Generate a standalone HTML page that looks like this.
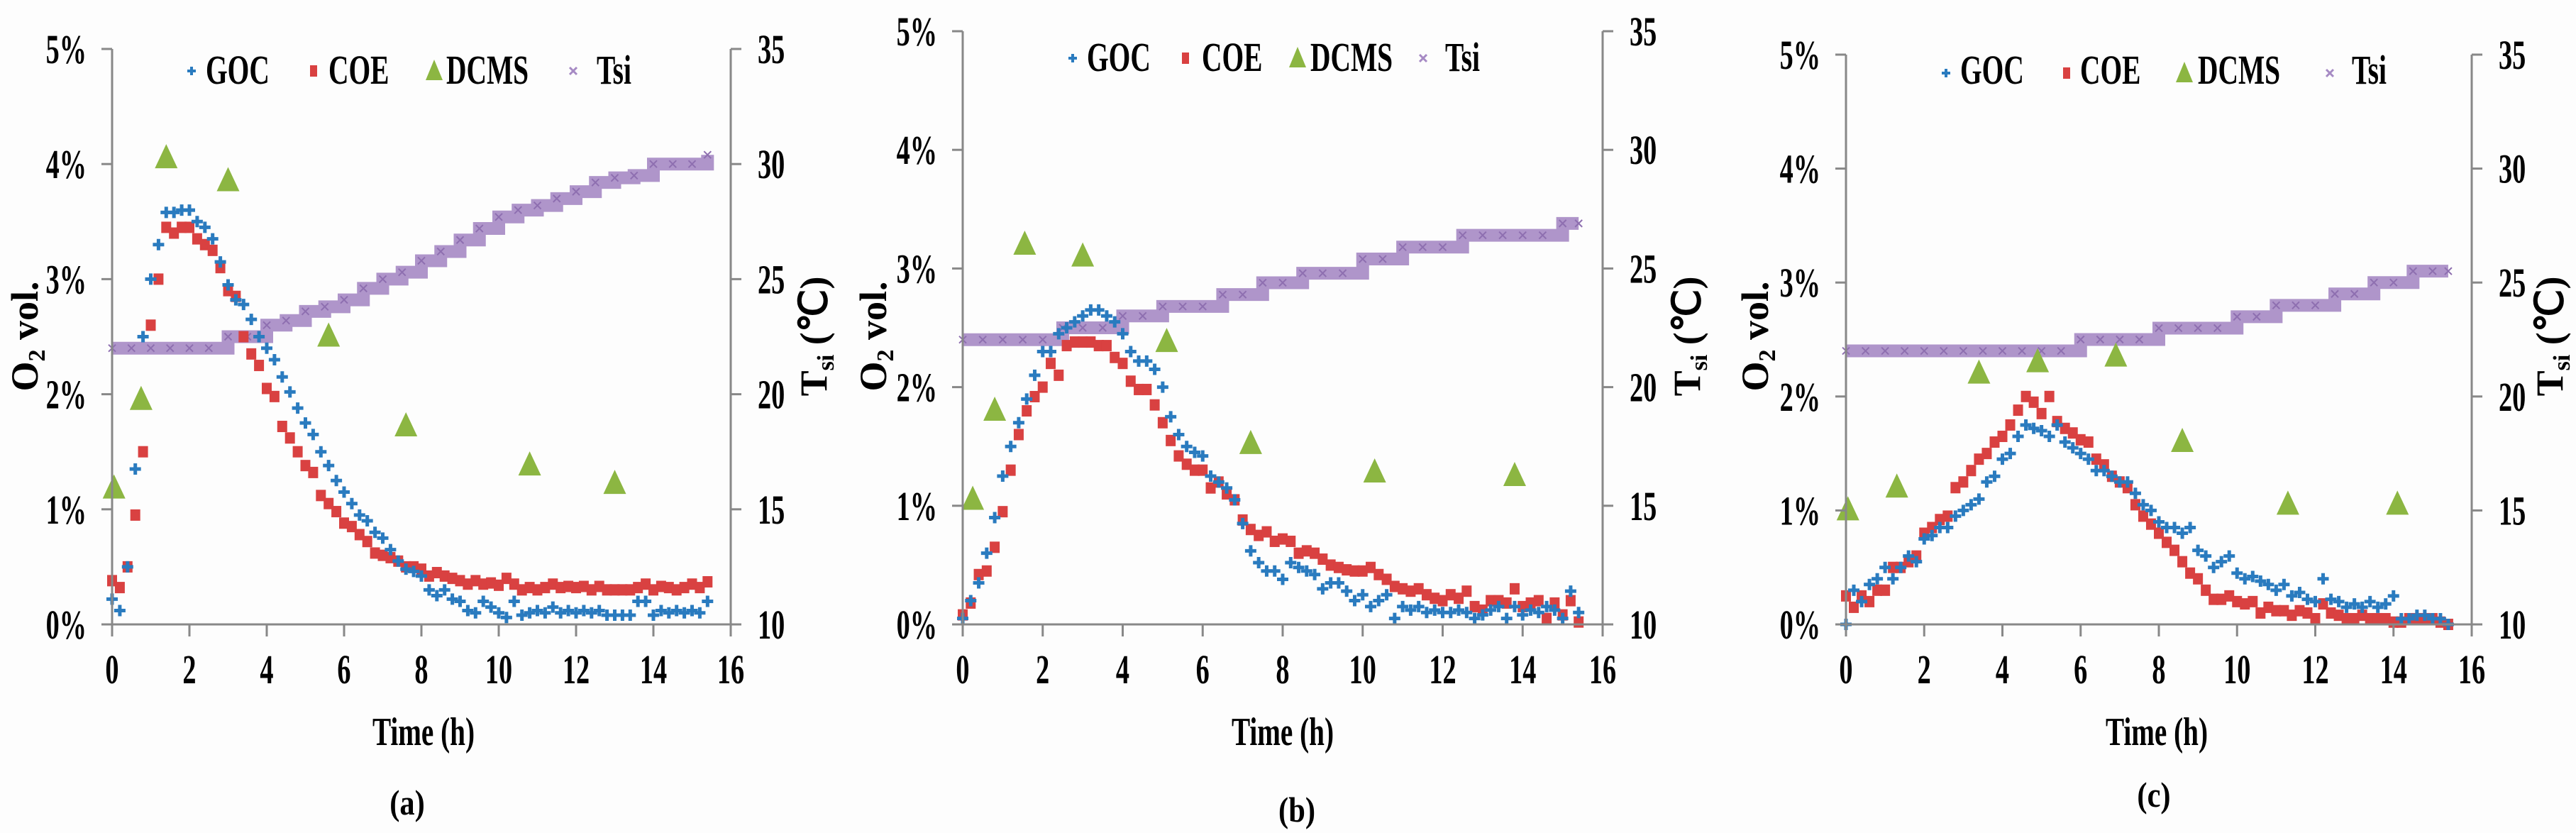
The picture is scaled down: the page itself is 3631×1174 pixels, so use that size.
<!DOCTYPE html>
<html><head><meta charset="utf-8"><style>
html,body{margin:0;padding:0;background:#fdfdfd;}
svg{display:block;}
text{font-family:"Liberation Serif",serif;font-weight:bold;fill:#000;}
</style></head><body>
<svg id="fig" width="3631" height="1174" viewBox="0 0 3631 1174" xmlns="http://www.w3.org/2000/svg">
<rect x="0" y="0" width="3631" height="1174" fill="#fdfdfd"/>
</svg>
<script>
// ---- data ----
const timeO2 = [0,0.2,0.4,0.6,0.8,1.0,1.2,1.4,1.6,1.8,2.0,2.2,2.4,2.6,2.8,3.0,3.2,3.4,3.6,3.8,4.0,4.2,4.4,4.6,4.8,5.0,5.2,5.4,5.6,5.8,6.0,6.2,6.4,6.6,6.8,7.0,7.2,7.4,7.6,7.8,8.0,8.2,8.4,8.6,8.8,9.0,9.2,9.4,9.6,9.8,10.0,10.2,10.4,10.6,10.8,11.0,11.2,11.4,11.6,11.8,12.0,12.2,12.4,12.6,12.8,13.0,13.2,13.4,13.6,13.8,14.0,14.2,14.4,14.6,14.8,15.0,15.2,15.4];
const timeTsi = [0,0.5,1,1.5,2,2.5,3,3.5,4,4.5,5,5.5,6,6.5,7,7.5,8,8.5,9,9.5,10,10.5,11,11.5,12,12.5,13,13.5,14,14.5,15,15.4];
const xTicks = [0,2,4,6,8,10,12,14,16];
const yTicksO2 = [0,1,2,3,4,5];
const yTickLabelsO2 = ["0%","1%","2%","3%","4%","5%"];
const yTicksTsi = [10,15,20,25,30,35];

const gocA = [0.22,0.12,0.5,1.35,2.5,3.0,3.3,3.58,3.58,3.6,3.6,3.5,3.45,3.35,3.15,2.95,2.82,2.78,2.65,2.5,2.4,2.3,2.15,2.02,1.88,1.75,1.65,1.5,1.38,1.25,1.15,1.05,0.95,0.9,0.8,0.75,0.65,0.55,0.48,0.46,0.42,0.3,0.25,0.3,0.22,0.2,0.12,0.1,0.2,0.15,0.1,0.06,0.2,0.08,0.1,0.12,0.1,0.15,0.1,0.12,0.1,0.12,0.1,0.12,0.08,0.08,0.08,0.08,0.2,0.2,0.08,0.12,0.1,0.12,0.1,0.12,0.1,0.2];
const coeA = [0.38,0.32,0.5,0.95,1.5,2.6,3.0,3.45,3.4,3.45,3.45,3.35,3.3,3.25,3.1,2.9,2.85,2.5,2.35,2.25,2.05,1.98,1.72,1.62,1.5,1.38,1.32,1.12,1.05,0.98,0.88,0.85,0.78,0.72,0.62,0.6,0.58,0.55,0.5,0.5,0.48,0.42,0.45,0.42,0.4,0.38,0.35,0.38,0.35,0.36,0.34,0.4,0.35,0.3,0.32,0.3,0.32,0.35,0.32,0.33,0.32,0.33,0.3,0.33,0.3,0.3,0.3,0.3,0.32,0.35,0.3,0.33,0.32,0.3,0.32,0.35,0.32,0.37];
const dcmsTimeA = [0.05,0.75,1.4,3.0,5.6,7.6,10.8,13.0];
const dcmsA = [1.18,1.95,4.05,3.85,2.5,1.72,1.38,1.22];
const tsiA = [22,22,22,22,22,22,22.5,22.5,23,23.2,23.6,23.8,24.1,24.6,25,25.3,25.8,26.2,26.7,27.2,27.7,28,28.2,28.5,28.8,29.2,29.4,29.5,30,30,30,30.4];

const gocB = [0.05,0.2,0.35,0.6,0.9,1.25,1.5,1.7,1.9,2.1,2.3,2.3,2.45,2.5,2.55,2.6,2.65,2.65,2.6,2.55,2.45,2.3,2.22,2.22,2.15,2.0,1.75,1.6,1.5,1.45,1.42,1.25,1.2,1.15,1.05,0.85,0.62,0.52,0.45,0.45,0.38,0.52,0.48,0.45,0.42,0.3,0.35,0.35,0.28,0.2,0.25,0.15,0.2,0.25,0.05,0.15,0.12,0.15,0.1,0.12,0.1,0.1,0.12,0.1,0.05,0.08,0.12,0.15,0.05,0.15,0.08,0.12,0.1,0.15,0.12,0.05,0.28,0.1];
const coeB = [0.08,0.18,0.42,0.45,0.65,0.95,1.3,1.6,1.8,1.92,2.0,2.2,2.1,2.35,2.38,2.38,2.38,2.35,2.35,2.25,2.2,2.05,1.98,1.98,1.85,1.7,1.55,1.42,1.35,1.3,1.3,1.15,1.2,1.1,1.05,0.88,0.8,0.75,0.78,0.7,0.72,0.7,0.6,0.62,0.6,0.55,0.5,0.48,0.46,0.45,0.45,0.48,0.42,0.38,0.32,0.3,0.28,0.3,0.25,0.22,0.2,0.25,0.22,0.28,0.15,0.12,0.2,0.2,0.18,0.3,0.15,0.18,0.2,0.05,0.18,0.08,0.2,0.02];
const dcmsTimeB = [0.25,0.8,1.55,3.0,5.1,7.2,10.3,13.8];
const dcmsB = [1.05,1.8,3.2,3.1,2.38,1.52,1.28,1.25];
const tsiB = [22,22,22,22,22,22.5,22.5,22.5,23,23,23.4,23.4,23.4,23.9,23.9,24.4,24.4,24.8,24.8,24.8,25.4,25.4,25.9,25.9,25.9,26.4,26.4,26.4,26.4,26.4,26.9,26.9];

const gocC = [0.0,0.3,0.2,0.35,0.4,0.5,0.4,0.5,0.6,0.55,0.75,0.78,0.85,0.85,0.95,1.0,1.05,1.1,1.25,1.3,1.45,1.5,1.65,1.75,1.72,1.7,1.65,1.75,1.6,1.55,1.5,1.45,1.35,1.35,1.3,1.25,1.25,1.15,1.05,1.0,0.9,0.85,0.85,0.8,0.85,0.65,0.6,0.5,0.55,0.6,0.45,0.4,0.42,0.38,0.35,0.3,0.35,0.25,0.28,0.22,0.2,0.4,0.22,0.2,0.15,0.18,0.15,0.2,0.15,0.18,0.25,0.05,0.05,0.08,0.08,0.05,0.05,0.0];
const coeC = [0.25,0.15,0.25,0.2,0.3,0.3,0.5,0.5,0.55,0.6,0.8,0.85,0.92,0.95,1.2,1.25,1.35,1.45,1.5,1.6,1.65,1.75,1.88,2.0,1.95,1.85,2.0,1.78,1.72,1.68,1.62,1.6,1.45,1.4,1.3,1.25,1.2,1.05,0.95,0.88,0.8,0.72,0.65,0.55,0.45,0.4,0.3,0.22,0.22,0.25,0.2,0.18,0.2,0.1,0.15,0.12,0.12,0.08,0.12,0.1,0.05,0.18,0.1,0.08,0.05,0.05,0.08,0.05,0.05,0.05,0.02,0.02,0.05,0.05,0.05,0.05,0.02,0.0];
const dcmsTimeC = [0.05,1.3,3.4,4.9,6.9,8.6,11.3,14.1];
const dcmsC = [1.0,1.2,2.2,2.3,2.35,1.6,1.05,1.05];
const tsiC = [22,22,22,22,22,22,22,22,22,22,22,22,22.5,22.5,22.5,22.5,23,23,23,23,23.5,23.5,24,24,24,24.5,24.5,25,25,25.5,25.5,25.5];

// ---- layout (pixel geometry, not data) ----
const panels = [
  {id:'a', x0:158, x1:1030, yTop:69, yBot:880, goc:gocA, coe:coeA, dT:dcmsTimeA, d:dcmsA, tsi:tsiA,
   leg:{my:100, by:118, goc:[270,290], coe:[442,463], dcms:[612,629], tsi:[808,841]},
   lt:35, rt:1147, timeX:597, sub:[574,1148]},
  {id:'b', x0:1357, x1:2259, yTop:44, yBot:880, goc:gocB, coe:coeB, dT:dcmsTimeB, d:dcmsB, tsi:tsiB,
   leg:{my:82, by:100, goc:[1512,1532], coe:[1671,1694], dcms:[1829,1847], tsi:[2006,2037]},
   lt:1231, rt:2378, timeX:1808, sub:[1828,1158]},
  {id:'c', x0:2602, x1:3484, yTop:77, yBot:880, goc:gocC, coe:coeC, dT:dcmsTimeC, d:dcmsC, tsi:tsiC,
   leg:{my:103, by:118, goc:[2743,2763], coe:[2913,2932], dcms:[3079,3098], tsi:[3284,3315]},
   lt:2474, rt:3594, timeX:3040, sub:[3036,1137]}
];
const C = {goc:'#2a7bbf', coe:'#d94141', dcms:'#8cb642', tsi:'#a68ac4', axis:'#888888'};
const NS = 'http://www.w3.org/2000/svg';
const svg = document.getElementById('fig');

function mk(tag, attrs, parent){
  const e = document.createElementNS(NS, tag);
  for (const k in attrs) e.setAttribute(k, attrs[k]);
  (parent||svg).appendChild(e);
  return e;
}
function txt(parent, str, x, y, size, anchor, sx, rot){
  const t = mk('text', {'font-size':size, 'text-anchor':anchor,
    transform:`translate(${x},${y})${rot?` rotate(${rot})`:''} scale(${sx},1)`}, parent);
  t.textContent = str;
  return t;
}

panels.forEach(p => {
  const g = mk('g', {});
  
  
  const xs = t => p.x0 + (p.x1 - p.x0) * t / 16;
  const yO = v => p.yBot - (p.yBot - p.yTop) * v / 5;
  const yT = v => p.yBot - (p.yBot - p.yTop) * (v - 10) / 25;

  // Tsi band (step line)
  let pts = [];
  timeTsi.forEach((t, i) => {
    if (i > 0) pts.push(`${xs(t)},${yT(p.tsi[i-1])}`);
    pts.push(`${xs(t)},${yT(p.tsi[i])}`);
  });
  const band = mk('polyline', {points: pts.join(' '), fill:'none', stroke:C.tsi, 'stroke-width':18, opacity:0.9}, g);
  
  
  timeTsi.forEach((t, i) => {
    const m = mk('path', {d:`M${xs(t)-5},${yT(p.tsi[i])-5}l10,10m0,-10l-10,10`, stroke:'#8e6fb0', 'stroke-width':2}, g);
    
    
  });

  // COE squares
  timeO2.forEach((t, i) => {
    const r = mk('rect', {x:xs(t)-7, y:yO(p.coe[i])-8, width:14, height:16, fill:C.coe}, g);
    
    
  });
  // GOC plus
  timeO2.forEach((t, i) => {
    const m = mk('path', {d:`M${xs(t)-8},${yO(p.goc[i])}h16M${xs(t)},${yO(p.goc[i])-8}v16`, stroke:C.goc, 'stroke-width':5}, g);
    
    
  });
  // DCMS triangles
  p.dT.forEach((t, i) => {
    const cx = xs(t), cy = yO(p.d[i]);
    const m = mk('polygon', {points:`${cx},${cy-20} ${cx+16},${cy+14} ${cx-16},${cy+14}`, fill:C.dcms}, g);
    
    
  });

  // axes
  const ax = mk('path', {d:`M${p.x0},${p.yTop}V${p.yBot}H${p.x1}M${p.x1},${p.yTop}V${p.yBot}`, stroke:C.axis, 'stroke-width':3, fill:'none'}, g);
  
  
  yTicksO2.forEach((v, i) => {
    mk('path', {d:`M${p.x0-15},${yO(v)}H${p.x0}`, stroke:C.axis, 'stroke-width':3}, g);
    const t = txt(g, yTickLabelsO2[i], p.x0-36, yO(v)+20, 58, 'end', 0.66);
    
    
  });
  yTicksTsi.forEach(v => {
    mk('path', {d:`M${p.x1},${yT(v)}H${p.x1+15}`, stroke:C.axis, 'stroke-width':3}, g);
    const t = txt(g, String(v), p.x1+38, yT(v)+20, 58, 'start', 0.66);
    
    
  });
  xTicks.forEach(v => {
    mk('path', {d:`M${xs(v)},${p.yBot}V${p.yBot+17}`, stroke:C.axis, 'stroke-width':3}, g);
    const t = txt(g, String(v), xs(v), 963, 58, 'middle', 0.66);
    
    
  });

  // axis titles
  const lt = mk('text', {'font-size':54, 'text-anchor':'middle', transform:`translate(${p.lt+18},474) rotate(-90)`}, g);
  lt.innerHTML = 'O<tspan font-size="34" dy="10">2</tspan><tspan dy="-10"> vol.</tspan>';
  
  
  const rt = mk('text', {'font-size':54, 'text-anchor':'middle', transform:`translate(${p.rt+18},474) rotate(-90)`}, g);
  rt.innerHTML = 'T<tspan font-size="34" dy="10">si</tspan><tspan dy="-10"> (℃)</tspan>';
  
  
  const xt = txt(g, 'Time (h)', p.timeX, 1050, 56, 'middle', 0.7);
  
  
  const sl = txt(g, '(' + p.id + ')', p.sub[0], p.sub[1], 50, 'middle', 0.85);
  
  

  // legend
  const L = p.leg;
  const lg = mk('g', {}, g);
  
  
  mk('path', {d:`M${L.goc[0]-6},${L.my}h12M${L.goc[0]},${L.my-6}v12`, stroke:C.goc, 'stroke-width':4}, lg);
  txt(lg, 'GOC', L.goc[1], L.by, 58, 'start', 0.68);
  mk('rect', {x:L.coe[0]-5, y:L.my-8, width:10, height:16, fill:C.coe}, lg);
  txt(lg, 'COE', L.coe[1], L.by, 58, 'start', 0.68);
  mk('polygon', {points:`${L.dcms[0]},${L.my-16} ${L.dcms[0]+12},${L.my+13} ${L.dcms[0]-12},${L.my+13}`, fill:C.dcms}, lg);
  txt(lg, 'DCMS', L.dcms[1], L.by, 58, 'start', 0.68);
  mk('path', {d:`M${L.tsi[0]-5},${L.my-5}l10,10m0,-10l-10,10`, stroke:C.tsi, 'stroke-width':3}, lg);
  txt(lg, 'Tsi', L.tsi[1], L.by, 58, 'start', 0.68);
});
</script>
</body></html>
